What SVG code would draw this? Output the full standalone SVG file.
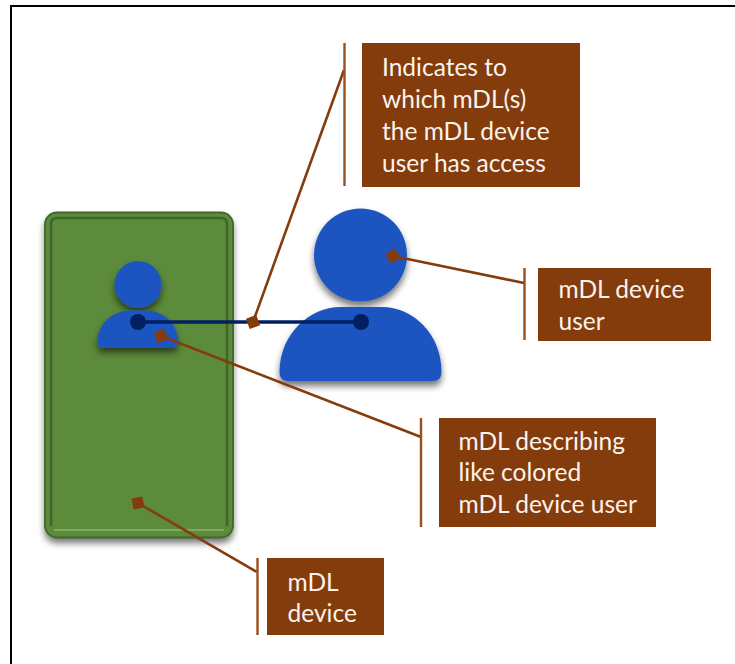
<svg xmlns="http://www.w3.org/2000/svg" width="735" height="664" viewBox="0 0 735 664">
<defs>
<style>
.lead{stroke:#843c0c;stroke-width:2.600;fill:none}
.bar{stroke:#97501f;stroke-width:2.400;fill:none}
.box{fill:#843c0c}
.tip{fill:#843c0c}
.lbl{font-family:"Lato","Carlito","Noto Sans",sans-serif;font-size:24.500px;fill:#fbf3ec}
.person{fill:#1f55c0}
.dot{fill:#002060}
</style>
<filter id="sh" x="-20%" y="-20%" width="140%" height="140%"><feGaussianBlur in="SourceAlpha" stdDeviation="3.500"/><feOffset dy="5"/><feComponentTransfer><feFuncA type="linear" slope="0.55"/></feComponentTransfer><feMerge><feMergeNode/><feMergeNode in="SourceGraphic"/></feMerge></filter>
</defs>
<rect width="735" height="664" fill="#fff"/>
<path d="M11 664V6H735" fill="none" stroke="#000" stroke-width="2"/>
<g id="device">
<rect x="44.500" y="212" width="189" height="326" rx="12" fill="#5b8b3b" filter="url(#sh)"/>
<rect x="45" y="212.500" width="188" height="325" rx="12" fill="none" stroke="#41692a" stroke-width="1.800"/>
<path d="M51 526V224Q51 218 57 218H221Q227 218 227 224V526" fill="none" stroke="#3f6527" stroke-width="2.500"/>
<path d="M54 530H224" fill="none" stroke="#8fb56f" stroke-width="1.500"/>
</g>
<g id="small-user" filter="url(#sh)">
<circle class="person" cx="138" cy="284.500" r="23.500"/>
<path class="person" d="M97.500 342C97.500 324 112 310.500 130 310.500H146C164 310.500 178 324 178 342Q178 347.500 172.500 347.500H103Q97.500 347.500 97.500 342Z"/>
</g>
<g id="large-user" filter="url(#sh)">
<circle class="person" cx="360.500" cy="255" r="46.500"/>
<path class="person" d="M279.500 372C279.500 334 310 307 340 307H382C413 307 441.500 334 441.500 372Q441.500 381 433 381H288Q279.500 381 279.500 372Z"/>
</g>
<g id="connectors">
<line x1="138" y1="322" x2="361" y2="322" stroke="#002060" stroke-width="3.500"/>
<circle class="dot" cx="138" cy="322" r="8"/>
<circle class="dot" cx="361" cy="322" r="8"/>
<line class="lead" x1="253" y1="322" x2="344" y2="70"/>
<line class="lead" x1="393" y1="256" x2="524" y2="283"/>
<line class="lead" x1="161" y1="336" x2="421" y2="437"/>
<line class="lead" x1="138" y1="503" x2="257" y2="572"/>
<rect class="tip" x="-5.500" y="-5.500" width="11" height="11" transform="translate(253 322) rotate(-20)"/>
<rect class="tip" x="-5.500" y="-5.500" width="11" height="11" transform="translate(393 256) rotate(-35)"/>
<rect class="tip" x="-5.500" y="-5.500" width="11" height="11" transform="translate(161 336) rotate(-22)"/>
<rect class="tip" x="-5.500" y="-5.500" width="11" height="11" transform="translate(138 503) rotate(-12)"/>
</g>
<g id="callout-access">
<line class="bar" x1="344.500" y1="43" x2="344.500" y2="186"/>
<rect class="box" x="362" y="43" width="218" height="144"/>
<text class="lbl" x="382" y="76">Indicates to</text>
<text class="lbl" x="382" y="108">which mDL(s)</text>
<text class="lbl" x="382" y="140">the mDL device</text>
<text class="lbl" x="382" y="172">user has access</text>
</g>
<g id="callout-user">
<line class="bar" x1="524.500" y1="268" x2="524.500" y2="340"/>
<rect class="box" x="538" y="268" width="173" height="73"/>
<text class="lbl" x="558.500" y="298">mDL device</text>
<text class="lbl" x="558.500" y="330">user</text>
</g>
<g id="callout-describing">
<line class="bar" x1="421" y1="418" x2="421" y2="527"/>
<rect class="box" x="439" y="418" width="217" height="109"/>
<text class="lbl" x="458.500" y="450">mDL describing</text>
<text class="lbl" x="458.500" y="481">like colored</text>
<text class="lbl" x="458.500" y="513">mDL device user</text>
</g>
<g id="callout-device">
<line class="bar" x1="257.500" y1="558" x2="257.500" y2="635"/>
<rect class="box" x="267" y="558" width="117" height="77"/>
<text class="lbl" x="287.500" y="591">mDL</text>
<text class="lbl" x="287.500" y="622">device</text>
</g>
</svg>
